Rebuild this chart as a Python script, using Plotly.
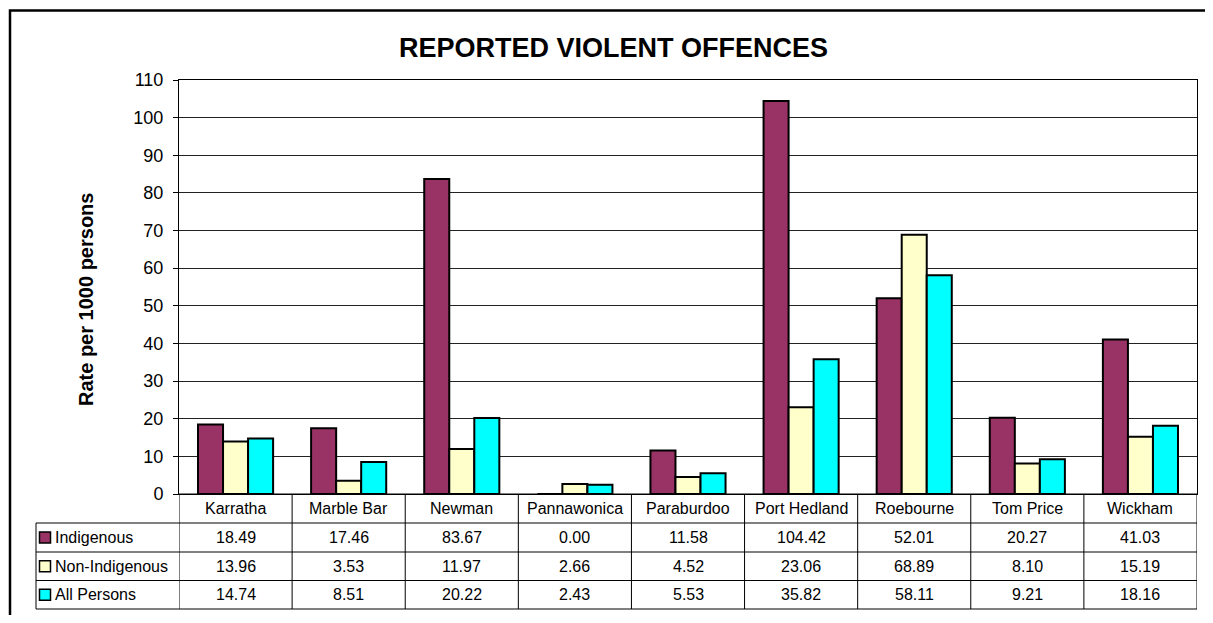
import plotly.graph_objects as go

categories = ["Karratha", "Marble Bar", "Newman", "Pannawonica", "Paraburdoo",
              "Port Hedland", "Roebourne", "Tom Price", "Wickham"]
series_names = ["Indigenous", "Non-Indigenous", "All Persons"]
indigenous = [18.49, 17.46, 83.67, 0.00, 11.58, 104.42, 52.01, 20.27, 41.03]
non_indigenous = [13.96, 3.53, 11.97, 2.66, 4.52, 23.06, 68.89, 8.10, 15.19]
all_persons = [14.74, 8.51, 20.22, 2.43, 5.53, 35.82, 58.11, 9.21, 18.16]
series_values = [indigenous, non_indigenous, all_persons]
colors = ["#993366", "#FFFFCC", "#00FFFF"]

FONT = "Arial, 'Liberation Sans', sans-serif"
OFF = 8  # page body margin offset
W, H = 1213 - 2 * OFF, 623 - 2 * OFF
L, R, T, B = 179, 1197, 80, 494  # plot area in page pixels


def px(x):
    return (x - L) / (R - L)


def py(y):
    return (B - y) / (B - T)


fig = go.Figure()
for name, vals, col in zip(series_names, series_values, colors):
    fig.add_trace(go.Bar(
        x=categories, y=vals, name=name,
        marker=dict(color=col, line=dict(color="black", width=2)),
        showlegend=False,
    ))

shapes = []
annotations = []

# outer frame
shapes.append(dict(type="rect", xref="paper", yref="paper",
                   x0=px(10), x1=px(1260), y0=py(10.5), y1=py(660),
                   line=dict(color="black", width=2.5)))

row_top = [494, 523, 552, 580.5, 609]
shapes.append(dict(type="line", xref="paper", yref="paper",
                   x0=px(179), x1=px(1197), y0=py(494), y1=py(494),
                   line=dict(color="black", width=1)))
for yy in row_top[1:]:
    shapes.append(dict(type="line", xref="paper", yref="paper",
                       x0=px(36), x1=px(1197), y0=py(yy), y1=py(yy),
                       line=dict(color="black", width=1)))
shapes.append(dict(type="line", xref="paper", yref="paper",
                   x0=px(36), x1=px(36), y0=py(523), y1=py(609),
                   line=dict(color="black", width=1)))
for i in range(len(categories) + 1):
    shapes.append(dict(type="line", xref="x", yref="paper",
                       x0=i - 0.5, x1=i - 0.5, y0=py(494), y1=py(609),
                       line=dict(color="black", width=1)))

for i, c in enumerate(categories):
    annotations.append(dict(x=c, xref="x", y=py(508.5), yref="paper",
                            text=c, showarrow=False, xanchor="center", yanchor="middle",
                            font=dict(family=FONT, size=16, color="black")))
for r, (name, vals, col) in enumerate(zip(series_names, series_values, colors)):
    yc = (row_top[r + 1] + row_top[r + 2]) / 2
    for c, v in zip(categories, vals):
        annotations.append(dict(x=c, xref="x", y=py(yc), yref="paper",
                                text=f"{v:.2f}", showarrow=False,
                                xanchor="center", yanchor="middle",
                                font=dict(family=FONT, size=16, color="black")))
    shapes.append(dict(type="rect", xref="paper", yref="paper",
                       x0=px(39.5), x1=px(50.5), y0=py(yc - 5.5), y1=py(yc + 5.5),
                       fillcolor=col, line=dict(color="black", width=1.5)))
    annotations.append(dict(x=px(53), xref="paper", y=py(yc), yref="paper",
                            text=name, showarrow=False, xanchor="left", yanchor="middle",
                            font=dict(family=FONT, size=16, color="black")))

annotations.append(dict(x=px(613), xref="paper", y=py(47.5), yref="paper",
                        text="<b>REPORTED VIOLENT OFFENCES</b>", showarrow=False,
                        xanchor="center", yanchor="middle",
                        font=dict(family=FONT, size=27, color="black")))
annotations.append(dict(x=px(86), xref="paper", y=py(300), yref="paper",
                        text="<b>Rate per 1000 persons</b>", showarrow=False,
                        textangle=-90, xanchor="center", yanchor="middle",
                        font=dict(family=FONT, size=20, color="black")))

fig.update_layout(
    width=W, height=H,
    margin=dict(l=L - OFF, r=W - (R - OFF), t=T - OFF, b=H - (B - OFF), pad=0),
    paper_bgcolor="white", plot_bgcolor="white",
    barmode="group", bargap=0.336, bargroupgap=0,
    shapes=shapes, annotations=annotations,
    font=dict(family=FONT, color="black"),
    showlegend=False,
)
fig.update_xaxes(type="category", showticklabels=False, ticks="",
                 showline=True, linecolor="black", linewidth=1, mirror=True,
                 showgrid=False, range=[-0.5, len(categories) - 0.5])
fig.update_yaxes(range=[0, 110], dtick=10, tick0=0,
                 showgrid=True, gridcolor="#222222", gridwidth=1,
                 showline=True, linecolor="black", linewidth=1, mirror=True,
                 ticks="outside", ticklen=5, tickcolor="black",
                 ticklabelstandoff=6,
                 tickfont=dict(family=FONT, size=18, color="black"),
                 zeroline=False)

fig.write_html("out.html")
